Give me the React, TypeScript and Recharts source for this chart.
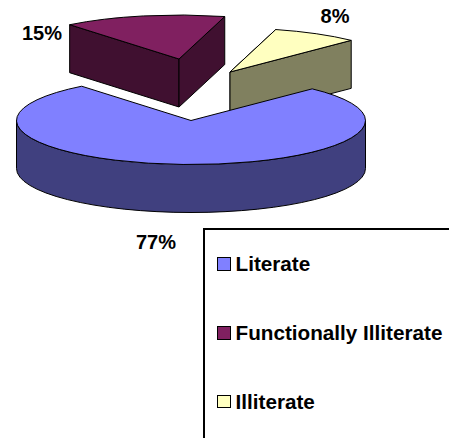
import React from 'react';
import { PieChart, Pie, Legend } from 'recharts';

// listed back to front so the big slice paints last
const categories = ['Illiterate', 'Functionally Illiterate', 'Literate'];
const shares = [8, 15, 77];
const topColors = ['#FFFFC0', '#802060', '#8080FF'];
const sideColors = ['#80805F', '#401030', '#40407F'];

const chartData = categories.map((name, i) => ({
  name,
  value: shares[i],
  fill: topColors[i],
  side: sideColors[i],
}));

const FONT = '"Liberation Sans", Arial, sans-serif';
const RX = 174.5;
const RY = 44;
const DEPTH = 48;

// how far each slice is pulled out of the pie
const explode: Record<string, [number, number]> = {
  Illiterate: [39, -48.5],
  'Functionally Illiterate': [-12, -61.5],
  Literate: [0, 0],
};

// where the percent labels sit
const labelAt: Record<string, [number, number]> = {
  Illiterate: [335, 22.5],
  'Functionally Illiterate': [42, 40],
  Literate: [156, 248.5],
};

const rad = (a: number) => (a * Math.PI) / 180;

function Slice3D(props: any) {
  const { cx, cy, startAngle, endAngle, fill, payload, name } = props;
  const key = payload?.name ?? name;
  const [ox, oy] = explode[key];
  const side = payload?.side;
  const x0 = cx + ox;
  const y0 = cy + oy;
  const pt = (a: number, d = 0): [number, number] => [
    x0 + RX * Math.cos(rad(a)),
    y0 - RY * Math.sin(rad(a)) + d,
  ];
  const sweep = endAngle - startAngle;
  const s = pt(startAngle);
  const e = pt(endAngle);

  const face = (a: number) => {
    const p = pt(a);
    const q = pt(a, DEPTH);
    return `M${x0},${y0}L${p[0]},${p[1]}L${q[0]},${q[1]}L${x0},${y0 + DEPTH}Z`;
  };

  // front rim, only the part of the slice in the lower half of the ellipse
  let rim = null;
  const from = Math.max(startAngle, 180);
  const to = Math.min(endAngle, 360);
  if (to > from) {
    const a = pt(from);
    const b = pt(to);
    const b2 = pt(to, DEPTH);
    const a2 = pt(from, DEPTH);
    const large = to - from > 180 ? 1 : 0;
    rim = (
      <path
        d={`M${a[0]},${a[1]}A${RX},${RY} 0 ${large} 0 ${b[0]},${b[1]}L${b2[0]},${b2[1]}A${RX},${RY} 0 ${large} 1 ${a2[0]},${a2[1]}Z`}
        fill={side}
        stroke="#000"
        strokeWidth={1}
      />
    );
  }

  return (
    <g>
      {sweep < 180 && (
        <>
          <path d={face(endAngle)} fill={side} stroke="#000" strokeWidth={1} />
          <path d={face(startAngle)} fill={side} stroke="#000" strokeWidth={1} />
        </>
      )}
      {rim}
      <path
        d={`M${x0},${y0}L${s[0]},${s[1]}A${RX},${RY} 0 ${sweep > 180 ? 1 : 0} 0 ${e[0]},${e[1]}Z`}
        fill={fill}
        stroke="#000"
        strokeWidth={1}
      />
    </g>
  );
}

function PercentLabel(props: any) {
  const key = props.payload?.name ?? props.name;
  const [x, y] = labelAt[key];
  return (
    <text x={x} y={y} textAnchor="middle" fontFamily={FONT} fontWeight="bold" fontSize={20} fill="#000">
      {`${props.value}%`}
    </text>
  );
}

function LegendBox() {
  const rows = chartData.slice().reverse();
  return (
    <div
      style={{
        boxSizing: 'border-box',
        width: 300,
        height: 300,
        border: '2px solid #000',
        background: '#fff',
        fontFamily: FONT,
        fontWeight: 'bold',
        fontSize: 20.7,
        color: '#000',
      }}
    >
      {rows.map((row, i) => (
        <div
          key={row.name}
          style={{
            position: 'absolute',
            left: 14,
            top: 24 + i * 68.75,
            height: 24,
            lineHeight: '24px',
            whiteSpace: 'nowrap',
            display: 'flex',
            alignItems: 'center',
          }}
        >
          <span
            style={{
              display: 'inline-block',
              boxSizing: 'border-box',
              width: 13.5,
              height: 13.5,
              marginRight: 5,
              background: row.fill,
              border: '1px solid #000',
            }}
          />
          {row.name}
        </div>
      ))}
    </div>
  );
}

export default function App() {
  return (
    <div style={{ position: 'absolute', left: 0, top: 0, width: 449, height: 438, overflow: 'hidden', background: '#fff' }}>
      <PieChart width={449} height={438} margin={{ top: 0, right: 0, bottom: 0, left: 0 }}>
        <Pie
          data={chartData}
          dataKey="value"
          nameKey="name"
          cx={191}
          cy={120.5}
          innerRadius={0}
          outerRadius={RX}
          startAngle={46}
          endAngle={406}
          stroke="none"
          shape={Slice3D}
          label={PercentLabel}
          labelLine={false}
          isAnimationActive={false}
        />
        <Legend
          content={<LegendBox />}
          wrapperStyle={{ position: 'absolute', left: 203, top: 228, bottom: 'auto', right: 'auto', width: 300, height: 300 }}
        />
      </PieChart>
    </div>
  );
}
